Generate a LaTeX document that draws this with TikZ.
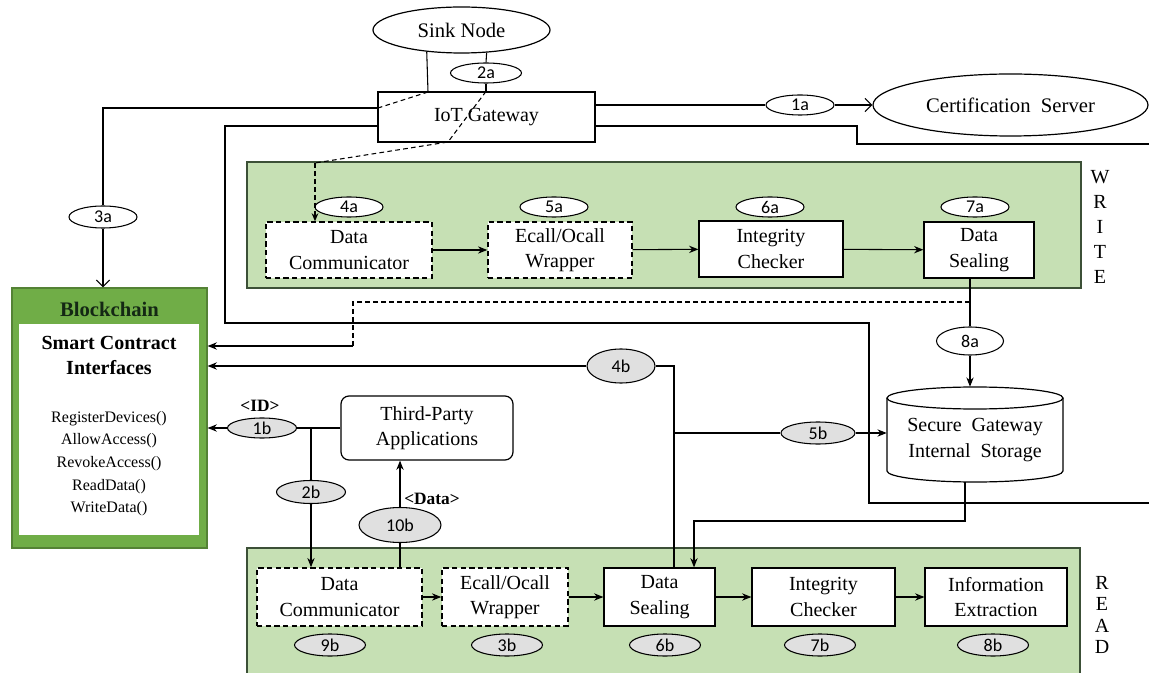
\documentclass[tikz,border=0pt]{standalone}
\usepackage{fontspec}
\setmainfont{Liberation Serif}
\newfontfamily\labfont{Carlito}
\usetikzlibrary{arrows.meta,shapes.geometric}
\definecolor{panelgreen}{RGB}{198,224,180}
\definecolor{panelborder}{RGB}{60,80,55}
\definecolor{bcgreen}{RGB}{112,173,71}
\definecolor{bcborder}{RGB}{84,130,53}
\definecolor{lblgray}{RGB}{224,224,224}
\definecolor{titlecol}{RGB}{20,40,20}
\begin{document}
\begin{tikzpicture}[x=0.75pt,y=-0.75pt,
  box/.style={draw, fill=white, line width=0.9pt, align=center, inner sep=0pt, font=\fontsize{15}{19}\selectfont},
  dbox/.style={box, dash pattern=on 4pt off 2.5pt, line width=1.1pt},
  lbl/.style={ellipse, draw, fill=white, inner sep=0pt, line width=0.8pt, font=\labfont\fontsize{13.5}{14}\selectfont},
  glbl/.style={lbl, fill=lblgray},
  conn/.style={line width=0.8pt},
  arr/.style={conn, -{Stealth[length=7pt,width=5.5pt]}},
  oarr/.style={conn, -{Straight Barb[length=5pt,width=10pt]}},
  dconn/.style={conn, dash pattern=on 3.5pt off 2.5pt},
  panel/.style={fill=panelgreen, draw=panelborder, line width=0.8pt},
  side/.style={align=center, inner sep=0pt},
  txt/.style={align=center, inner sep=0pt},
]
\useasboundingbox (0,0) rectangle (1149,673);

% ---------- panels ----------
\node[panel, minimum width=625.5pt, minimum height=94.5pt, inner sep=0pt] (write) at (664,225) {};
\fill[panelgreen] (247,548) rectangle (1080,673);
\draw[draw=panelborder, line width=0.8pt] (247,673) -- (247,548) -- (1080,548) -- (1080,673);
\node[inner sep=0pt, minimum width=624.75pt, minimum height=93.75pt] (read) at (663.5,610.5) {};
\node[side, font=\fontsize{15}{18.75}\selectfont] (wlab) at (1100,227) {W\\R\\I\\T\\E};
\node[side, font=\fontsize{15}{16}\selectfont] (rlab) at (1102,615) {R\\E\\A\\D};

% ---------- top nodes ----------
\node[ellipse, draw, fill=white, line width=0.9pt, inner sep=0pt, minimum width=132.75pt, minimum height=34.5pt, font=\fontsize{15.5}{18}\selectfont] (sink) at (461.5,30) {Sink Node};
\node[lbl, minimum width=53.25pt, minimum height=15pt] (l2a) at (486,73) {2a};
\node[box, minimum width=162.75pt, minimum height=37.5pt] (iot) at (486.5,117) {IoT Gateway};
\node[lbl, minimum width=51pt, minimum height=15pt] (l1a) at (800,105) {1a};
\node[ellipse, draw, fill=white, line width=0.9pt, inner sep=0pt, minimum width=206.25pt, minimum height=46.5pt, font=\fontsize{15.5}{18}\selectfont] (cert) at (1010.5,105) {Certification\ \ Server};
\node[lbl, minimum width=51pt, minimum height=16.5pt] (l3a) at (103,217) {3a};

% ---------- WRITE row ----------
\node[dbox, minimum width=124.5pt, minimum height=42pt] (wdc) at (349,250) {Data\\Communicator};
\node[dbox, minimum width=108pt, minimum height=42pt] (wew) at (560,250) {Ecall/Ocall\\Wrapper};
\node[box, minimum width=108pt, minimum height=42pt] (wic) at (771,249) {Integrity\\Checker};
\node[box, minimum width=82.5pt, minimum height=42pt] (wds) at (979,250) {Data\\Sealing};
\node[lbl, minimum width=51pt, minimum height=15pt] (l4a) at (349,207) {4a};
\node[lbl, minimum width=51pt, minimum height=15pt] (l5a) at (554,207) {5a};
\node[lbl, minimum width=51pt, minimum height=15pt] (l6a) at (770,207) {6a};
\node[lbl, minimum width=51pt, minimum height=15pt] (l7a) at (975,207) {7a};
\draw[arr] (wdc) -- (wew);
\draw[arr] (wew) -- (wic);
\draw[arr] (wic) -- (wds);

% ---------- Blockchain ----------
\node[draw=bcborder, fill=bcgreen, line width=0.9pt, inner sep=0pt, minimum width=146.25pt, minimum height=195pt] (bc) at (109.5,418) {};
\node[fill=white, inner sep=0pt, minimum width=135pt, minimum height=158.25pt] (bcin) at (109,429.5) {};
\node[txt, font=\bfseries\fontsize{15.5}{18}\selectfont, text=titlecol] (bctitle) at (109.5,309) {Blockchain};
\node[txt, font=\bfseries\fontsize{15}{18.75}\selectfont] (sci) at (109,355.5) {Smart Contract\\Interfaces};
\node[txt, font=\fontsize{12}{17}\selectfont] (funcs) at (109,463.5) {RegisterDevices()\\AllowAccess()\\RevokeAccess()\\ReadData()\\WriteData()};

% ---------- middle ----------
\node[box, rounded corners=6pt, minimum width=129pt, minimum height=48pt] (tp) at (427,428) {Third-Party\\Applications};
\node[glbl, minimum width=51.75pt, minimum height=15pt] (l1b) at (262,428) {1b};
\node[txt, font=\bfseries\fontsize{13}{14}\selectfont] (idl) at (260,406) {<ID>};
\node[glbl, minimum width=51.75pt, minimum height=17.25pt] (l2b) at (311,492) {2b};
\node[glbl, minimum width=61.5pt, minimum height=26.25pt] (l10b) at (400,525) {10b};
\node[txt, font=\bfseries\fontsize{13}{14}\selectfont] (datal) at (432,499) {<Data>};
\node[glbl, minimum width=51pt, minimum height=25.5pt] (l4b) at (621,366) {4b};
\node[glbl, minimum width=55.5pt, minimum height=16.5pt] (l5b) at (818,433) {5b};
\node[lbl, minimum width=50.25pt, minimum height=21pt] (l8a) at (970,341) {8a};

% storage cylinder
\fill[white] (887,398) -- (887,471) arc[start angle=180, end angle=360, x radius=66pt, y radius=8.25pt] -- (1063,398) -- cycle;
\draw[line width=0.9pt] (887,398) -- (887,471) arc[start angle=180, end angle=360, x radius=66pt, y radius=8.25pt] -- (1063,398);
\draw[line width=0.9pt, fill=white] (975,398) ellipse[x radius=66pt, y radius=8.25pt];
\node[inner sep=0pt, minimum width=132pt, minimum height=71.25pt] (store) at (975,434.5) {};
\node[txt, font=\fontsize{15}{19.5}\selectfont] (storetxt) at (975,440) {Secure\ \ Gateway\\Internal\ \ Storage};

% ---------- READ row ----------
\node[dbox, minimum width=123.75pt, minimum height=43.5pt] (rdc) at (339.5,597) {Data\\Communicator};
\node[dbox, minimum width=94.5pt, minimum height=43.5pt] (rew) at (505,597) {Ecall/Ocall\\Wrapper};
\node[box, minimum width=83.25pt, minimum height=43.5pt] (rds) at (659.5,597) {Data\\Sealing};
\node[box, minimum width=107.25pt, minimum height=43.5pt] (ric) at (823.5,597) {Integrity\\Checker};
\node[box, minimum width=106.5pt, minimum height=43.5pt] (rie) at (996,597) {Information\\Extraction};
\node[glbl, minimum width=53.25pt, minimum height=16.5pt] (l9b) at (330,645) {9b};
\node[glbl, minimum width=53.25pt, minimum height=16.5pt] (l3b) at (507,645) {3b};
\node[glbl, minimum width=53.25pt, minimum height=16.5pt] (l6b) at (665,645) {6b};
\node[glbl, minimum width=53.25pt, minimum height=16.5pt] (l7b) at (820,645) {7b};
\node[glbl, minimum width=53.25pt, minimum height=16.5pt] (l8b) at (993,645) {8b};
\draw[arr] (rdc) -- (rew);
\draw[arr] (rew) -- (rds);
\draw[arr] (rds) -- (ric);
\draw[arr] (ric) -- (rie);

% ---------- coordinates ----------
\coordinate (a1) at (428,92);
\coordinate (a2) at (378,108);
\coordinate (a3) at (103,108);
\coordinate (b1) at (448,142);
\coordinate (b2) at (315,163);
\coordinate (c1) at (225,126);
\coordinate (c2) at (225,323);
\coordinate (c3) at (869,323);
\coordinate (c4) at (869,503);
\coordinate (c5) at (1149,503);
\coordinate (e1) at (857,126);
\coordinate (e2) at (857,144);
\coordinate (e3) at (1149,144);
\coordinate (dsplit) at (970,302);
\coordinate (dturn) at (353,346);
\coordinate (c4b) at (674,366);
\coordinate (c5b) at (674,433);
\coordinate (s1) at (965,521);
\coordinate (s2) at (694,521);
\coordinate (c2b) at (311,428);

% ---------- connectors ----------
% sink -> 3a -> blockchain
\draw[conn] (sink.212) -- (a1);
\draw[dconn] (a1) -- (a2);
\draw[conn] (a2) -- (a3) -- (l3a.north);
\draw[oarr] (l3a.south) -- (bc.north -| l3a);
% sink -> 2a -> write data communicator
\draw[conn] (sink.318) -- (l2a.north);
\draw[conn] (l2a.south) -- (l2a.south |- iot.north);
\draw[dconn] (l2a.south |- iot.north) -- (b1) -- (b2);
\draw[dconn, -{Stealth[length=6pt,width=5pt]}] (b2) -- (b2 |- wdc.north);
% IoT -> 1a -> certification server
\draw[conn] (iot.east |- l1a) -- (l1a.west);
\draw[oarr] (l1a.east) -- (cert.west);
% IoT loops
\draw[conn] (iot.west |- c1) -- (c1) -- (c2) -- (c3) -- (c4) -- (c5);
\draw[conn] (iot.east |- e1) -- (e1) -- (e2) -- (e3);
% data sealing -> 8a -> storage, and dashed to blockchain
\draw[conn] (l8a |- wds.south) -- (l8a.north);
\draw[arr] (l8a.south) -- (l8a |- store.north);
\draw[dconn] (dsplit) -| (dturn);
\draw[arr] (dturn) -- (bc.east |- dturn);
% 4b
\draw[conn] (c4b |- rds.north) -- (c4b) -- (l4b.east);
\draw[arr] (l4b.west) -- (bc.east |- l4b);
% 5b
\draw[conn] (c5b) -- (l5b.west);
\draw[arr] (l5b.east) -- (store.west |- l5b);
% storage -> read data sealing
\draw[arr] (s1 |- store.south) -- (s1) -- (s2) -- (s2 |- rds.north);
% third party -> 1b -> blockchain
\draw[conn] (tp.west) -- (l1b.east);
\draw[arr] (l1b.west) -- (bc.east |- l1b);
% 2b
\draw[conn] (c2b) -- (l2b.north);
\draw[arr] (l2b.south) -- (l2b.south |- rdc.north);
% 10b
\draw[conn] (l10b |- rdc.north) -- (l10b.south);
\draw[arr] (l10b.north) -- (l10b |- tp.south);
\end{tikzpicture}
\end{document}
